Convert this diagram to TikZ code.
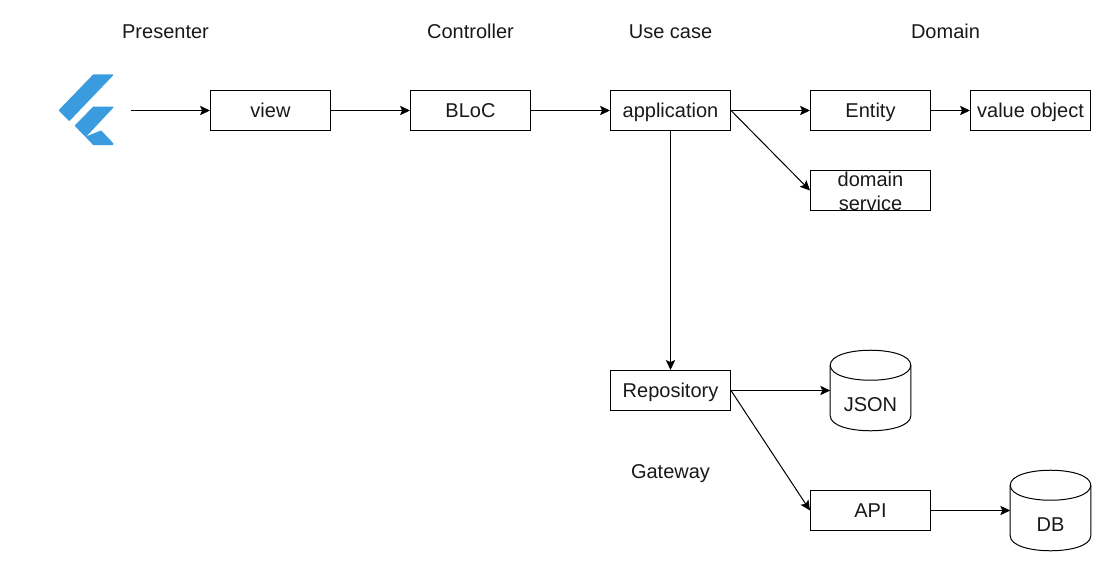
\documentclass[tikz,border=0pt]{standalone}
\usepackage{fontspec}
\setmainfont{Liberation Sans}
\usetikzlibrary{arrows.meta,calc}
\definecolor{flutterblue}{HTML}{3A9BDF}
\tikzset{
  x=0.75pt, y=-0.75pt,
  every node/.style={font=\fontsize{15pt}{18pt}\selectfont, text=black!90},
  tline/.style={text height=13pt, text depth=2.5pt},
  bline/.style={text height=13.7pt, text depth=2.5pt},
  box/.style={draw=black, line width=0.75pt, fill=white, minimum width=90pt, minimum height=30pt, inner sep=0pt, align=center},
  cylbody/.style={minimum width=60pt, minimum height=60pt, inner sep=0pt},
  caption/.style={inner sep=0pt, tline},
  conn/.style={draw=black, line width=0.75pt, -{Stealth[length=7.5pt,width=7pt,inset=1.6pt]}},
  logo/.style={fill=flutterblue, draw=flutterblue, line width=1pt, line join=round},
  cyl/.style={draw=black, line width=0.75pt, fill=white}
}
\newcommand{\drawcyl}[1]{%
  \draw[cyl] (#1.north west) ++(0,15)
    .. controls +(0,-20) and ($(#1.north east)+(0,-5)$) .. ($(#1.north east)+(0,15)$)
    -- ($(#1.south east)+(0,-15)$)
    .. controls +(0,20) and ($(#1.south west)+(0,5)$) .. ($(#1.south west)+(0,-15)$)
    -- cycle;
  \draw[cyl,fill=none] ($(#1.north west)+(0,15)$)
    .. controls +(0,20) and ($(#1.north east)+(0,35)$) .. ($(#1.north east)+(0,15)$);
}
\begin{document}
\begin{tikzpicture}
\useasboundingbox (0,0) rectangle (1101,561);
% Flutter logo
\fill[logo] (93.6,75) -- (112.6,75) -- (69.3,120.2) -- (59.5,110.3) -- cycle;
\fill[logo] (93.6,107.2) -- (112.8,107.2) -- (85.7,136.2) -- (75.5,125.7) -- cycle;
\fill[logo] (86.5,137) -- (101,131.2) -- (112.8,143.8) -- (112.4,144.5) -- (93.6,144.5) -- cycle;
% Captions
\node[caption] (tp) at (165.5,31) {Presenter};
\node[caption] (tc) at (470.5,31) {Controller};
\node[caption] (tu) at (670.5,31) {Use case};
\node[caption] (td) at (945.5,31) {Domain};
\node[caption] (tg) at (670.5,471) {Gateway};
% Boxes
\coordinate (start) at (130.5,110.5);
\node[box,bline] (view) at (270.5,110.5) {view};
\node[box,bline] (bloc) at (470.5,110.5) {BLoC};
\node[box,bline] (app) at (670.5,110.5) {application};
\node[box,bline] (entity) at (870.5,110.5) {Entity};
\node[box,bline] (vo) at (1030.5,110.5) {value object};
\node[box,text height=30.5pt,text depth=0pt] (ds) at (870.5,190.5) {domain\\service};
\node[box,bline] (repo) at (670.5,390.5) {Repository};
\node[box,bline] (api) at (870.5,510.5) {API};
% Cylinders
\node[cylbody] (json) at (870.5,390.5) {};
\node[cylbody] (db) at (1050.5,510.5) {};
\drawcyl{json}
\drawcyl{db}
\node[caption] (jsont) at (870.5,404.5) {JSON};
\node[caption] (dbt) at (1050.5,524.5) {DB};
% Connectors
\draw[conn] (start) -- (view.west);
\draw[conn] (view.east) -- (bloc.west);
\draw[conn] (bloc.east) -- (app.west);
\draw[conn] (app.east) -- (entity.west);
\draw[conn] (entity.east) -- (vo.west);
\draw[conn] (app.east) -- (ds.west);
\draw[conn] (app.south) -- (repo.north);
\draw[conn] (repo.east) -- (json.west);
\draw[conn] (repo.east) -- (api.west);
\draw[conn] (api.east) -- (db.west);
\end{tikzpicture}
\end{document}
